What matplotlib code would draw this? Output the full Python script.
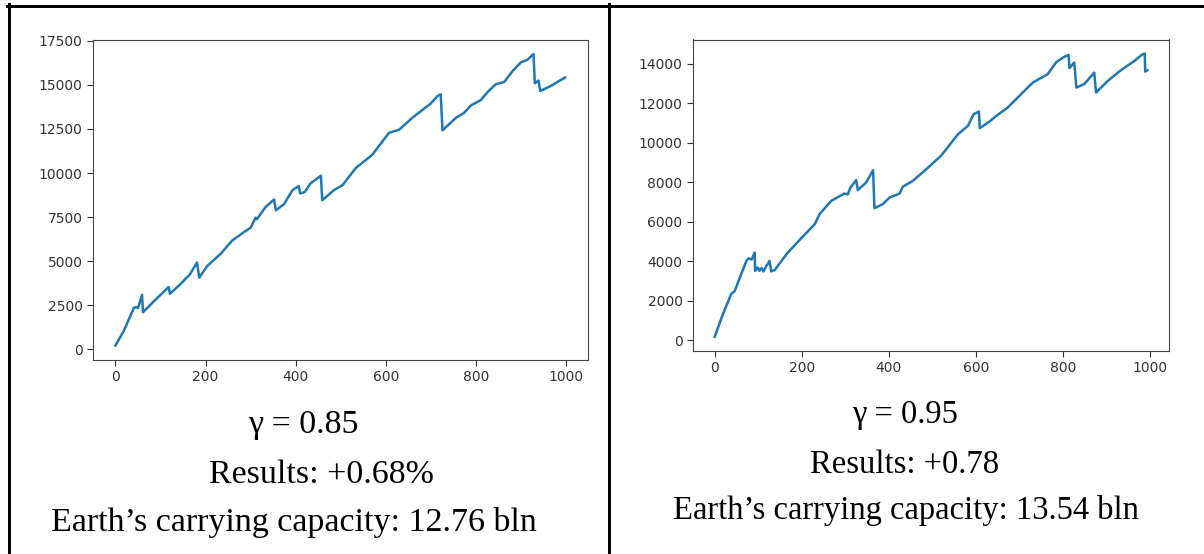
import matplotlib.pyplot as plt
from matplotlib.lines import Line2D

# gamma = 0.85 run
x_left = [0, 18, 41, 46, 50, 59, 61, 90, 118, 121, 144, 165, 181, 186, 204, 233, 259, 285,
          300, 311, 314, 333, 352, 356, 374, 393, 407, 410, 420, 433, 456, 459, 485, 504,
          533, 570, 607, 630, 659, 700, 715, 722, 726, 756, 774, 789, 811, 826, 844, 863,
          882, 900, 915, 928, 931, 939, 943, 967, 985, 998]
y_left = [230, 1030, 2360, 2400, 2350, 3090, 2110, 2850, 3540, 3160, 3700, 4250, 4930, 4070,
          4740, 5410, 6170, 6650, 6900, 7470, 7380, 8070, 8500, 7890, 8230, 9030, 9260, 8840,
          8920, 9410, 9850, 8460, 9030, 9310, 10270, 11030, 12270, 12460, 13130, 13940, 14360,
          14460, 12420, 13130, 13410, 13830, 14130, 14590, 15030, 15160, 15790, 16270, 16420,
          16740, 15090, 15240, 14650, 14940, 15220, 15410]

# gamma = 0.95 run
x_right = [0, 19, 38, 46, 61, 73, 78, 85, 92, 93, 99, 103, 108, 112, 118, 126, 130, 138, 168,
           199, 230, 241, 268, 298, 306, 312, 325, 329, 348, 364, 367, 386, 402, 425, 432, 455,
           482, 520, 559, 582, 595, 607, 609, 631, 647, 673, 700, 719, 731, 765, 784, 800, 813,
           815, 826, 831, 849, 872, 876, 903, 933, 964, 983, 988, 989, 994]
y_right = [167, 1315, 2330, 2480, 3340, 4010, 4140, 4080, 4430, 3510, 3680, 3510, 3650, 3480,
           3720, 4010, 3480, 3550, 4430, 5160, 5870, 6380, 7050, 7420, 7380, 7720, 8100, 7590,
           7980, 8600, 6680, 6880, 7220, 7420, 7760, 8060, 8570, 9330, 10420, 10850, 11440,
           11570, 10730, 11060, 11350, 11770, 12360, 12780, 13040, 13460, 14050, 14300, 14440,
           13770, 14050, 12780, 12960, 13540, 12530, 13120, 13660, 14130, 14470, 14500, 13590,
           13660]

captions_left = ['\u03b3 = 0.85', 'Results: +0.68%', 'Earth\u2019s carrying capacity: 12.76 bln']
captions_right = ['\u03b3 = 0.95', 'Results: +0.78', 'Earth\u2019s carrying capacity: 13.54 bln']

W, H = 1204, 554
fig = plt.figure(figsize=(W / 100, H / 100), dpi=100)


def box(x0, x1, y0, y1):
    # pixel box (top-left origin) -> figure fraction
    return [x0 / W, 1 - y1 / H, (x1 - x0) / W, (y1 - y0) / H]


ax1 = fig.add_axes(box(93, 587.5, 39.5, 360))
ax2 = fig.add_axes(box(693, 1169, 39.5, 351))

for ax, xs, ys in [(ax1, x_left, y_left), (ax2, x_right, y_right)]:
    ax.plot(xs, ys, color='#1f77b4', lw=1.8)
    ax.set_xticks([0, 200, 400, 600, 800, 1000])
    ax.tick_params(labelsize=10, colors='#333333', length=4)
    for s in ax.spines.values():
        s.set_color('#444444')

ax1.set_yticks([0, 2500, 5000, 7500, 10000, 12500, 15000, 17500])
ax2.set_yticks([0, 2000, 4000, 6000, 8000, 10000, 12000, 14000])

serif = ['Liberation Serif', 'DejaVu Serif']
for txt, (cx, cy) in zip(captions_left, [(303, 425), (321, 475), (294, 522)]):
    fig.text(cx / W, 1 - cy / H, txt, ha='center', va='center', fontsize=24.5, family=serif)
for txt, (cx, cy) in zip(captions_right, [(905, 415), (905, 465), (906, 510)]):
    fig.text(cx / W, 1 - cy / H, txt, ha='center', va='center', fontsize=23.5, family=serif)

# table borders
lw = 3 * 0.72
fig.add_artist(Line2D([7 / W, 1], [1 - 5.5 / H] * 2, color='black', lw=lw))
fig.add_artist(Line2D([8.5 / W] * 2, [0, 1 - 4 / H], color='black', lw=lw))
fig.add_artist(Line2D([608.5 / W] * 2, [0, 1 - 4 / H], color='black', lw=lw))

fig.savefig('out.png', dpi=100)
